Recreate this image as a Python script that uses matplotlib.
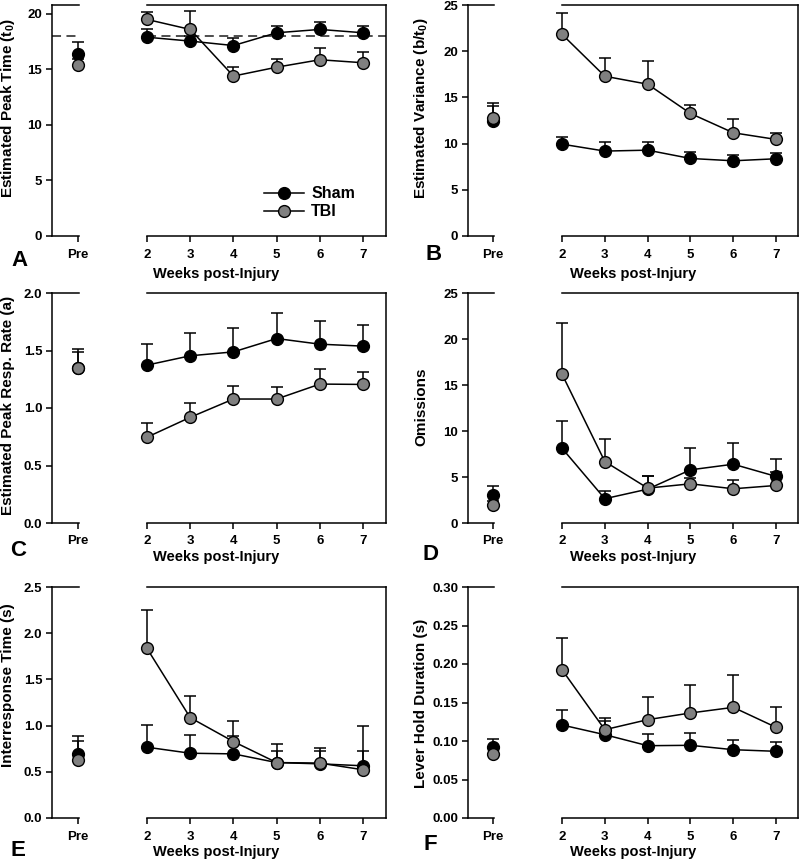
import matplotlib
matplotlib.use("Agg")
import matplotlib.pyplot as plt
import numpy as np

plt.rcParams['font.family'] = ['Liberation Sans', 'DejaVu Sans']
plt.rcParams['font.weight'] = 'bold'
plt.rcParams['mathtext.fontset'] = 'custom'
plt.rcParams['mathtext.rm'] = 'Liberation Sans:bold'
plt.rcParams['mathtext.bf'] = 'Liberation Sans:bold'
plt.rcParams['mathtext.default'] = 'bf'

weeks = [2, 3, 4, 5, 6, 7]

# panel A - estimated peak time
a_pre_sham, a_pre_sham_err = 16.35, 1.1
a_pre_tbi, a_pre_tbi_err = 15.4, 0.5
a_sham = [17.9, 17.55, 17.15, 18.3, 18.6, 18.3]
a_sham_err = [0.75, 0.5, 0.7, 0.65, 0.65, 0.65]
a_tbi = [19.5, 18.6, 14.4, 15.2, 15.87, 15.6]
a_tbi_err = [0.7, 1.7, 0.8, 0.75, 1.03, 1.0]
a_criterion = 18.0

# panel B - estimated variance
b_pre_sham, b_pre_sham_err = 12.46, 1.64
b_pre_tbi, b_pre_tbi_err = 12.82, 1.58
b_sham = [9.94, 9.19, 9.29, 8.39, 8.14, 8.36]
b_sham_err = [0.79, 1.0, 0.9, 0.72, 0.61, 0.64]
b_tbi = [21.83, 17.29, 16.43, 13.26, 11.17, 10.45]
b_tbi_err = [2.34, 2.02, 2.48, 0.97, 1.44, 0.72]

# panel C - peak response rate
c_pre_sham, c_pre_sham_err = 1.35, 0.16
c_pre_tbi, c_pre_tbi_err = 1.344, 0.144
c_sham = [1.373, 1.454, 1.488, 1.604, 1.555, 1.538]
c_sham_err = [0.182, 0.202, 0.211, 0.225, 0.202, 0.182]
c_tbi = [0.746, 0.919, 1.078, 1.078, 1.208, 1.205]
c_tbi_err = [0.121, 0.121, 0.116, 0.102, 0.127, 0.11]

# panel D - omissions
d_pre_sham, d_pre_sham_err = 3.0, 0.97
d_pre_tbi, d_pre_tbi_err = 1.91, 0.45
d_sham = [8.13, 2.64, 3.68, 5.78, 6.39, 5.06]
d_sham_err = [2.96, 0.79, 1.38, 2.35, 2.35, 1.91]
d_tbi = [16.18, 6.68, 3.79, 4.26, 3.72, 4.08]
d_tbi_err = [5.57, 2.46, 1.34, 0.6, 0.97, 1.42]

# panel E - interresponse time
e_pre_sham, e_pre_sham_err = 0.69, 0.198
e_pre_tbi, e_pre_tbi_err = 0.63, 0.208
e_sham = [0.766, 0.701, 0.694, 0.60, 0.586, 0.565]
e_sham_err = [0.241, 0.198, 0.194, 0.12, 0.134, 0.162]
e_tbi = [1.835, 1.086, 0.827, 0.60, 0.594, 0.522]
e_tbi_err = [0.415, 0.238, 0.227, 0.20, 0.161, 0.478]

# panel F - lever hold duration
f_pre_sham, f_pre_sham_err = 0.0918, 0.0108
f_pre_tbi, f_pre_tbi_err = 0.0835, 0.008
f_sham = [0.1208, 0.1082, 0.0939, 0.0944, 0.0887, 0.0866]
f_sham_err = [0.019, 0.0173, 0.0156, 0.016, 0.013, 0.0117]
f_tbi = [0.1926, 0.1147, 0.1277, 0.1364, 0.1437, 0.1177]
f_tbi_err = [0.0412, 0.0152, 0.0294, 0.0368, 0.0416, 0.0265]

W, H = 800, 864
fig = plt.figure(figsize=(W / 100, H / 100), dpi=100)

GRAY = '#808080'
LW = 1.1
MS = 8.5


def fx(px):
    return px / W


def fy(py):
    return 1 - py / H


def plot_series(ax, x, y, err, face, z):
    ax.errorbar(x, y, yerr=[np.zeros(len(err)), err], fmt='none', ecolor='black',
                elinewidth=LW, capsize=4, capthick=LW, clip_on=False, zorder=z)
    ax.plot(x, y, '-o', color='black', lw=LW, ms=MS, mfc=face, mec='black',
            mew=1.0, clip_on=False, zorder=z + 1)


def panel(col, row, pre, sham, sham_err, tbi, tbi_err, ylim, yticks, fmt,
          ylabel, letter, ylab_y, letter_xy, hline=None):
    top, bot = [(5, 236), (293, 523), (587, 818)][row]
    if col == 0:
        p0, p1, w0, w1, w_right = 52, 79, 147, 386, 7.53
        ylab_x, xlab_x = 8, 216
    else:
        p0, p1, w0, w1, w_right = 468, 494, 562, 798, 7.51
        ylab_x, xlab_x = 421, 633
    xlab_y = [274, 557, 852][row]

    axp = fig.add_axes([fx(p0), fy(bot), fx(p1 - p0), (bot - top) / H])
    axw = fig.add_axes([fx(w0), fy(bot), fx(w1 - w0), (bot - top) / H])

    for ax in (axp, axw):
        ax.set_ylim(*ylim)
        for s in ax.spines.values():
            s.set_linewidth(LW)
        ax.tick_params(direction='out', length=4, width=LW, labelsize=9.5, pad=5)
        ax.patch.set_alpha(0)

    axp.set_xlim(-1, 0.04)
    axp.spines['right'].set_visible(False)
    axp.set_xticks([0])
    axp.set_xticklabels(['Pre'])
    axp.set_yticks(yticks)
    axp.set_yticklabels([fmt.format(v) for v in yticks])
    axp.tick_params(axis='y', pad=3)

    axw.set_xlim(2, w_right)
    axw.spines['left'].set_visible(False)
    axw.set_xticks(weeks)
    axw.set_yticks([])

    if hline is not None:
        for ax in (axp, axw):
            ax.axhline(hline, color='#404040', lw=1.3, ls=(0, (5, 3)), zorder=1)

    ps, pse, pt, pte = pre
    plot_series(axp, [0], [ps], [pse], 'black', 3)
    plot_series(axp, [0], [pt], [pte], GRAY, 5)
    plot_series(axw, weeks, sham, sham_err, 'black', 3)
    plot_series(axw, weeks, tbi, tbi_err, GRAY, 5)

    fig.text(fx(ylab_x), fy(ylab_y), ylabel, rotation=90, ha='center', va='center',
             fontsize=11, fontweight='bold')
    fig.text(fx(xlab_x), fy(xlab_y), 'Weeks post-Injury', ha='center', va='center',
             fontsize=10.5, fontweight='bold')
    fig.text(fx(letter_xy[0]), fy(letter_xy[1]), letter, ha='center', va='center',
             fontsize=16, fontweight='bold')
    return axp, axw


axp, axw = panel(0, 0, (a_pre_sham, a_pre_sham_err, a_pre_tbi, a_pre_tbi_err),
                 a_sham, a_sham_err, a_tbi, a_tbi_err, (0, 20.8), [0, 5, 10, 15, 20], '{:g}',
                 r'Estimated Peak Time (t$_0$)', 'A', 108, (19, 260), hline=a_criterion)
h1, = axw.plot([], [], '-o', color='black', lw=LW, ms=MS, mfc='black', mec='black')
h2, = axw.plot([], [], '-o', color='black', lw=LW, ms=MS, mfc=GRAY, mec='black')
axw.legend([h1, h2], ['Sham', 'TBI'], loc='lower right', bbox_to_anchor=(0.93, 0.01),
           frameon=False, numpoints=1, handlelength=2.5, handletextpad=0.45,
           labelspacing=0.2, prop={'size': 11.5, 'weight': 'bold'})

panel(1, 0, (b_pre_sham, b_pre_sham_err, b_pre_tbi, b_pre_tbi_err),
      b_sham, b_sham_err, b_tbi, b_tbi_err, (0, 25), [0, 5, 10, 15, 20, 25], '{:g}',
      r'Estimated Variance (b/t$_0$)', 'B', 108, (434, 255))

panel(0, 1, (c_pre_sham, c_pre_sham_err, c_pre_tbi, c_pre_tbi_err),
      c_sham, c_sham_err, c_tbi, c_tbi_err, (0, 2.0), [0, 0.5, 1.0, 1.5, 2.0], '{:.1f}',
      'Estimated Peak Resp. Rate (a)', 'C', 405, (18, 551))

panel(1, 1, (d_pre_sham, d_pre_sham_err, d_pre_tbi, d_pre_tbi_err),
      d_sham, d_sham_err, d_tbi, d_tbi_err, (0, 25), [0, 5, 10, 15, 20, 25], '{:g}',
      'Omissions', 'D', 407, (430, 555))

panel(0, 2, (e_pre_sham, e_pre_sham_err, e_pre_tbi, e_pre_tbi_err),
      e_sham, e_sham_err, e_tbi, e_tbi_err, (0, 2.5), [0, 0.5, 1.0, 1.5, 2.0, 2.5], '{:.1f}',
      'Interresponse Time (s)', 'E', 685, (18, 850))

panel(1, 2, (f_pre_sham, f_pre_sham_err, f_pre_tbi, f_pre_tbi_err),
      f_sham, f_sham_err, f_tbi, f_tbi_err, (0, 0.30),
      [0, 0.05, 0.10, 0.15, 0.20, 0.25, 0.30], '{:.2f}',
      'Lever Hold Duration (s)', 'F', 703, (430, 845))

fig.savefig('out.png', dpi=100)
